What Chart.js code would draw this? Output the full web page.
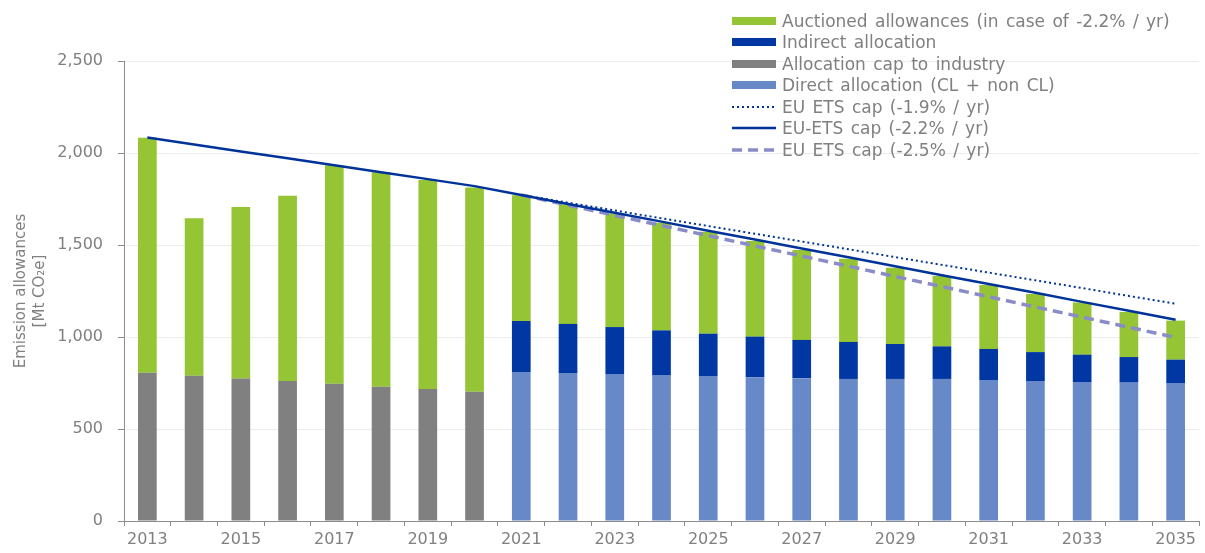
<!DOCTYPE html>
<html>
<head>
<meta charset="utf-8">
<script src="https://cdn.jsdelivr.net/npm/chart.js@4/dist/chart.umd.min.js"></script>
<style>
  html, body { margin: 0; padding: 0; background: #fff; }
  #wrap { position: relative; width: 1205px; height: 553px; }
  #legend { position: absolute; left: 732px; top: 10px; font: 17px "DejaVu Sans", Verdana, sans-serif; word-spacing: 2px; color: #808080; }
  .item { display: flex; align-items: center; height: 21.5px; white-space: nowrap; }
  .item svg { width: 44px; height: 12px; margin-right: 6px; flex: none; }
</style>
</head>
<body>
<div id="wrap">
  <canvas id="chart" width="1205" height="553"></canvas>
  <div id="legend"></div>
</div>
<script>
// values (Mt CO2e)
const years = ["2013", "2014", "2015", "2016", "2017", "2018", "2019", "2020", "2021", "2022", "2023", "2024",
  "2025", "2026", "2027", "2028", "2029", "2030", "2031", "2032", "2033", "2034", "2035"];

const allocationCap = [806, 790, 775, 761, 746, 730, 717, 703,
  null, null, null, null, null, null, null, null, null, null, null, null, null, null, null];

const directAllocation = [null, null, null, null, null, null, null, null,
  810, 804, 799, 793, 788, 781, 775, 772, 772, 772, 766, 761, 755, 752, 750];

const indirectAllocation = [null, null, null, null, null, null, null, null,
  277, 267, 255, 243, 230, 221, 209, 201, 190, 177, 169, 157, 149, 139, 127];

const auctioned = [1277, 855, 932, 1007, 1187, 1165, 1136, 1109,
  683, 650, 618, 585, 554, 520, 489, 452, 415, 383, 348, 316, 283, 245, 212];

const capMinus19 = [null, null, null, null, null, null, null, null,
  1772, 1730, 1688, 1645, 1603, 1561, 1519, 1477, 1434, 1392, 1350, 1308, 1266, 1223, 1181];

const capMinus22 = [2084, 2046, 2008, 1971, 1933, 1895, 1858, 1820,
  1772, 1723, 1675, 1627, 1578, 1530, 1481, 1433, 1385, 1336, 1288, 1240, 1191, 1143, 1094];

const capMinus25 = [null, null, null, null, null, null, null, null,
  1772, 1717, 1661, 1606, 1551, 1495, 1440, 1385, 1329, 1274, 1219, 1163, 1108, 1053, 998];

const FONT = "'DejaVu Sans', Verdana, sans-serif";
const GREY_TEXT = "#808080";

const green = "#95c434";
const darkBlue = "#0037a2";
const grey = "#808080";
const lightBlue = "#6889c8";
const lineBlue = "#003399";
const lavender = "#8a8cc8";

const datasets = [
  { type: "bar", label: "Allocation cap to industry", data: allocationCap, backgroundColor: grey, stack: "bars", order: 2 },
  { type: "bar", label: "Direct allocation (CL + non CL)", data: directAllocation, backgroundColor: lightBlue, stack: "bars", order: 2 },
  { type: "bar", label: "Indirect allocation", data: indirectAllocation, backgroundColor: darkBlue, stack: "bars", order: 2 },
  { type: "bar", label: "Auctioned allowances (in case of -2.2% / yr)", data: auctioned, backgroundColor: green, stack: "bars", order: 2 },
  { type: "line", label: "EU ETS cap (-1.9% / yr)", data: capMinus19, borderColor: lineBlue, borderWidth: 2, borderDash: [2, 3], stack: "c19", order: 1 },
  { type: "line", label: "EU-ETS cap (-2.2% / yr)", data: capMinus22, borderColor: lineBlue, borderWidth: 2.5, stack: "c22", order: 1 },
  { type: "line", label: "EU ETS cap (-2.5% / yr)", data: capMinus25, borderColor: lavender, borderWidth: 3.5, borderDash: [10, 6], stack: "c25", order: 1 },
];
datasets.forEach((d) => {
  if (d.type === "bar") {
    d.barPercentage = 0.4;
    d.categoryPercentage = 1;
    d.borderWidth = 0;
  } else {
    d.pointRadius = 0;
    d.tension = 0;
    d.fill = false;
    d.spanGaps = false;
  }
});

new Chart(document.getElementById("chart"), {
  type: "bar",
  data: { labels: years, datasets: datasets },
  options: {
    responsive: false,
    animation: false,
    layout: { padding: { top: 61, right: 6, left: 0, bottom: 0 } },
    plugins: { legend: { display: false }, tooltip: { enabled: false } },
    scales: {
      x: {
        stacked: true,
        afterFit: (s) => { s.height = 32; },
        border: { color: "#8c8c8c", width: 1 },
        grid: { offset: true, drawOnChartArea: false, drawTicks: true, tickLength: 5, color: "#8c8c8c" },
        ticks: {
          autoSkip: false,
          maxRotation: 0,
          padding: 4,
          color: GREY_TEXT,
          font: { family: FONT, size: 16 },
          callback: function (v, i) { return i % 2 === 0 ? this.getLabelForValue(v) : ""; },
        },
      },
      y: {
        stacked: true,
        min: 0,
        max: 2500,
        afterFit: (s) => { s.width = 124; },
        border: { color: "#8c8c8c", width: 1 },
        grid: { color: "#ececec", tickColor: "#8c8c8c", tickLength: 6 },
        ticks: {
          stepSize: 500,
          padding: 15,
          color: GREY_TEXT,
          font: { family: FONT, size: 16 },
          callback: (v) => v.toLocaleString("en-US"),
        },
        title: {
          display: true,
          text: ["Emission allowances", "[Mt CO\u2082e]"],
          color: GREY_TEXT,
          font: { family: FONT, size: 15, lineHeight: 1.25 },
          padding: { top: 12, bottom: 4 },
        },
      },
    },
  },
});

// legend drawn as html, in the reference order
const legendOrder = [3, 2, 0, 1, 4, 5, 6];
const legend = document.getElementById("legend");
legendOrder.forEach((i) => {
  const d = datasets[i];
  let swatch;
  if (d.type === "bar") {
    swatch = `<svg viewBox="0 0 44 12"><rect x="0" y="2" width="44" height="8" fill="${d.backgroundColor}"/></svg>`;
  } else {
    const dash = d.borderDash ? `stroke-dasharray="${d.borderDash.join(" ")}"` : "";
    swatch = `<svg viewBox="0 0 44 12"><line x1="0" y1="6" x2="44" y2="6" stroke="${d.borderColor}" stroke-width="${d.borderWidth}" ${dash}/></svg>`;
  }
  const row = document.createElement("div");
  row.className = "item";
  row.innerHTML = swatch + `<span>${d.label}</span>`;
  legend.appendChild(row);
});
</script>
</body>
</html>
